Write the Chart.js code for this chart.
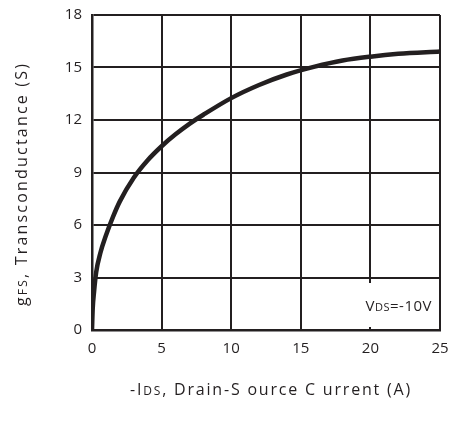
<!DOCTYPE html>
<html>
<head>
<meta charset="utf-8">
<script src="https://cdn.jsdelivr.net/npm/chart.js@4"></script>
<style>
  html, body { margin: 0; padding: 0; background: #fff; }
  #wrap { width: 449px; height: 423px; }
</style>
</head>
<body>
<div id="wrap"><canvas id="gfsChart"></canvas></div>
<script>
// Data
const currentA = [0, 0.05, 0.15, 0.3, 0.6, 1, 1.5, 2, 3, 4, 5, 6, 7, 8, 10, 12, 14, 16, 18, 20, 22, 25];
const gfsS = [0, 1.2, 2.2, 3.3, 4.4, 5.4, 6.45, 7.35, 8.7, 9.7, 10.5, 11.18, 11.78, 12.3, 13.25, 14.0, 14.6, 15.05, 15.4, 15.62, 15.78, 15.91];
const xTicks = [0, 5, 10, 15, 20, 25];
const yTicks = [0, 3, 6, 9, 12, 15, 18];

const INK = '#231f20';
const FONT = '"Open Sans", "Liberation Sans", sans-serif';

// Draws text pieces in a row, each with its own size
function drawPieces(ctx, pieces, x, y, align, spacing) {
    ctx.letterSpacing = (spacing || 0) + 'px';
    let total = 0;
    pieces.forEach(p => {
        ctx.font = p.size + 'px ' + FONT;
        total += ctx.measureText(p.text).width;
    });
    let cx = align === 'center' ? x - total / 2 : (align === 'right' ? x - total : x);
    ctx.textAlign = 'left';
    ctx.textBaseline = 'alphabetic';
    pieces.forEach(p => {
        ctx.font = p.size + 'px ' + FONT;
        ctx.fillText(p.text, cx, y);
        cx += ctx.measureText(p.text).width;
    });
    ctx.letterSpacing = '0px';
}

const labelsPlugin = {
    id: 'labels',
    beforeDatasetsDraw(chart) {
        const ctx = chart.ctx;
        const area = chart.chartArea;
        ctx.save();
        // condition label box in the lower right corner
        ctx.fillStyle = '#fff';
        ctx.fillRect(area.right - 84, area.bottom - 47, 82, 44);
        ctx.fillStyle = INK;
        drawPieces(ctx, [
            { text: 'V', size: 15 },
            { text: 'DS', size: 11 },
            { text: '=-10V', size: 15 }
        ], area.right - 8, area.bottom - 19, 'right', 0.5);
        ctx.restore();
    },
    afterDraw(chart) {
        const ctx = chart.ctx;
        ctx.save();
        ctx.fillStyle = INK;
        // x axis title
        drawPieces(ctx, [
            { text: '-I', size: 16 },
            { text: 'DS', size: 12 },
            { text: ', Drain-S ource C urrent (A)', size: 16 }
        ], 271, 395, 'center', 1.8);
        // y axis title, rotated
        ctx.translate(27, 184);
        ctx.rotate(-Math.PI / 2);
        drawPieces(ctx, [
            { text: 'g', size: 16 },
            { text: 'FS', size: 12 },
            { text: ', Transconductance (S)', size: 16 }
        ], 0, 0, 'center', 2.2);
        ctx.restore();
    }
};

new Chart(document.getElementById('gfsChart'), {
    type: 'line',
    data: {
        datasets: [{
            data: currentA.map((x, i) => ({ x: x, y: gfsS[i] })),
            borderColor: INK,
            borderWidth: 4.5,
            pointRadius: 0,
            cubicInterpolationMode: 'monotone',
            fill: false
        }]
    },
    options: {
        responsive: true,
        maintainAspectRatio: false,
        animation: false,
        layout: { padding: { left: 0, top: 15, right: 9, bottom: 0 } },
        plugins: {
            legend: { display: false },
            tooltip: { enabled: false }
        },
        scales: {
            x: {
                type: 'linear',
                min: 0,
                max: 25,
                afterBuildTicks: axis => { axis.ticks = xTicks.map(v => ({ value: v })); },
                afterFit: axis => {
                    axis.height = 93;
                    axis.paddingLeft = 0;
                    axis.paddingRight = 0;
                },
                grid: { color: INK, lineWidth: 2, drawTicks: false },
                border: { color: INK, width: 2.5 },
                ticks: { color: INK, padding: 10, font: { family: FONT, size: 15 } }
            },
            y: {
                type: 'linear',
                min: 0,
                max: 18,
                afterBuildTicks: axis => { axis.ticks = yTicks.map(v => ({ value: v })); },
                afterFit: axis => {
                    axis.width = 92;
                    axis.paddingTop = 0;
                    axis.paddingBottom = 0;
                },
                grid: { color: INK, lineWidth: 2, drawTicks: false },
                border: { color: INK, width: 2.5 },
                ticks: { color: INK, padding: 10, font: { family: FONT, size: 15 } }
            }
        }
    },
    plugins: [labelsPlugin]
});
</script>
</body>
</html>
